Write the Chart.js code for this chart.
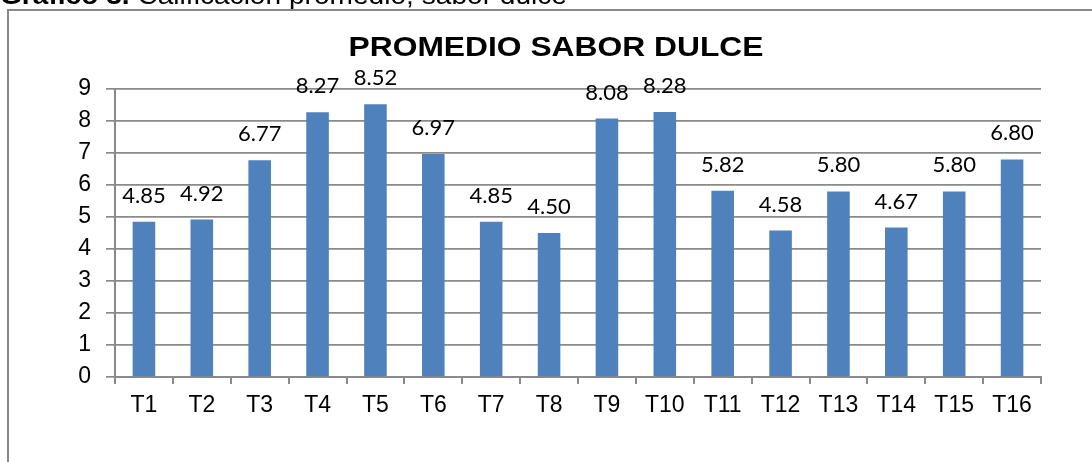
<!DOCTYPE html>
<html>
<head>
<meta charset="utf-8">
<script src="https://cdn.jsdelivr.net/npm/chart.js@4.4.1/dist/chart.umd.min.js"></script>
<style>
  html, body { margin: 0; padding: 0; background: #fff; overflow: hidden; }
  #wrap { position: relative; width: 1092px; height: 462px; overflow: hidden; }
  #frame { position: absolute; left: 7px; top: 9px; width: 1200px; height: 600px;
           border-top: 2px solid #898989; border-left: 2px solid #898989; }
  canvas { position: absolute; left: 0; top: 0; }
</style>
</head>
<body>
<div id="wrap">
  <div id="frame"></div>
  <canvas id="c" width="1092" height="462"></canvas>
</div>
<script>
const chartTitle = "PROMEDIO SABOR DULCE";
const headerBold = "Gráfico 3.";
const headerText = " Calificación promedio, sabor dulce";
const categories = ["T1","T2","T3","T4","T5","T6","T7","T8","T9","T10","T11","T12","T13","T14","T15","T16"];
const values = [4.85, 4.92, 6.77, 8.27, 8.52, 6.97, 4.85, 4.50, 8.08, 8.28, 5.82, 4.58, 5.80, 4.67, 5.80, 6.80];
const yTicks = [0,1,2,3,4,5,6,7,8,9];

const gridGray = "#8a8a8a";

const overlay = {
  id: "overlay",
  afterDatasetsDraw(chart) {
    const ctx = chart.ctx;
    const meta = chart.getDatasetMeta(0);
    ctx.save();
    ctx.fillStyle = "#000";
    ctx.font = "22px Lato, 'Open Sans', sans-serif";
    ctx.textAlign = "center";
    ctx.textBaseline = "middle";
    meta.data.forEach((bar, i) => {
      ctx.fillText(values[i].toFixed(2), bar.x, bar.y - 26);
    });
    // chart title, slightly widened like the original rendering
    ctx.font = "bold 28px 'Liberation Sans', Arial, sans-serif";
    const tw = ctx.measureText(chartTitle).width;
    const sx = 415 / tw;
    ctx.save();
    ctx.translate(556, 48);
    ctx.scale(sx, 1);
    ctx.fillText(chartTitle, 0, 0);
    ctx.restore();
    // header caption, cut at the top of the image
    ctx.textAlign = "left";
    ctx.textBaseline = "alphabetic";
    ctx.font = "bold 26px 'Liberation Sans', Arial, sans-serif";
    const bw = ctx.measureText(headerBold).width;
    ctx.font = "26px 'Liberation Sans', Arial, sans-serif";
    const nw = ctx.measureText(headerText).width;
    const hs = 567 / (bw + nw);
    ctx.save();
    ctx.translate(0, 4);
    ctx.scale(hs, 1);
    ctx.font = "bold 26px 'Liberation Sans', Arial, sans-serif";
    ctx.fillText(headerBold, 0, 0);
    ctx.font = "26px 'Liberation Sans', Arial, sans-serif";
    ctx.fillText(headerText, bw, 0);
    ctx.restore();
    ctx.restore();
  }
};

new Chart(document.getElementById("c"), {
  type: "bar",
  data: {
    labels: categories,
    datasets: [{
      data: values,
      backgroundColor: "#4f81bd",
      borderWidth: 0,
      barPercentage: 1.0,
      categoryPercentage: 0.39
    }]
  },
  options: {
    responsive: false,
    animation: false,
    devicePixelRatio: 1,
    layout: { padding: { top: 89, right: 51, left: 0, bottom: 0 } },
    plugins: { legend: { display: false }, title: { display: false }, tooltip: { enabled: false } },
    scales: {
      y: {
        min: 0, max: 9,
        afterFit(scale) { scale.width = 115; },
        afterBuildTicks(scale) { scale.ticks = yTicks.map(v => ({ value: v })); },
        ticks: {
          color: "#000",
          font: { family: "'Liberation Sans', Arial, sans-serif", size: 23 },
          padding: 15
        },
        grid: { color: gridGray, lineWidth: 1.7, tickLength: 9, drawTicks: true },
        border: { color: gridGray, width: 2 }
      },
      x: {
        afterFit(scale) { scale.height = 85; },
        ticks: {
          color: "#000",
          font: { family: "'Liberation Sans', Arial, sans-serif", size: 23 },
          padding: 8,
          maxRotation: 0, autoSkip: false
        },
        grid: { display: true, drawOnChartArea: false, color: gridGray, lineWidth: 2, tickLength: 7, offset: true },
        border: { color: gridGray, width: 2 }
      }
    }
  },
  plugins: [overlay]
});
</script>
</body>
</html>
